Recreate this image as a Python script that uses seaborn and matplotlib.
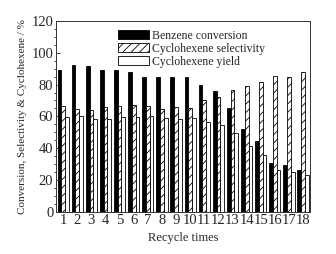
import matplotlib
matplotlib.use("Agg")
import matplotlib.pyplot as plt
import seaborn as sns
import pandas as pd
from matplotlib.ticker import MultipleLocator

cycles = [str(i) for i in range(1, 19)]
conversion = [89.5, 92.6, 92.0, 89.5, 89.0, 88.2, 84.8, 84.8, 84.8, 84.8,
              80.0, 75.8, 65.3, 52.0, 44.2, 30.5, 29.5, 26.3]
selectivity = [66.7, 64.8, 64.2, 65.9, 66.7, 67.4, 66.7, 64.6, 65.9, 65.5,
               70.5, 72.2, 76.8, 79.4, 81.5, 85.7, 84.8, 87.8]
yield_ = [59.4, 60.0, 58.5, 58.5, 59.6, 59.4, 60.0, 58.7, 58.5, 59.2,
          56.4, 54.7, 49.5, 41.0, 35.8, 26.3, 25.0, 23.2]
series = ["Benzene conversion", "Cyclohexene selectivity", "Cyclohexene yield"]

df = pd.DataFrame({
    "cycle": cycles * 3,
    "value": conversion + selectivity + yield_,
    "series": [series[0]] * 18 + [series[1]] * 18 + [series[2]] * 18,
})

sns.set_style("ticks")
plt.rcParams["font.family"] = ["Liberation Serif", "DejaVu Serif"]
plt.rcParams["hatch.linewidth"] = 0.6

fig = plt.figure(figsize=(3.36, 2.54), dpi=100)
ax = fig.add_axes([0.167, 0.167, 0.756, 0.750])

sns.barplot(data=df, x="cycle", y="value", hue="series", order=cycles,
            hue_order=series, palette=["black", "white", "white"],
            edgecolor="black", linewidth=0.6, width=0.8, ax=ax, legend=True)

hatches = ["", "////", ""]
for cont, h in zip(ax.containers, hatches):
    for p in cont:
        p.set_hatch(h)

ax.set_ylim(0, 120)
ax.set_xlim(-0.5, 17.5)
ax.yaxis.set_major_locator(MultipleLocator(20))
ax.yaxis.set_minor_locator(MultipleLocator(5))
ax.tick_params(axis="both", direction="in", labelsize=10.5, pad=2)
ax.tick_params(axis="y", which="major", length=3, width=0.6)
ax.tick_params(axis="y", which="minor", length=1.5, width=0.6)
ax.tick_params(axis="x", length=0)
for s in ax.spines.values():
    s.set_visible(True)
    s.set_linewidth(0.7)
    s.set_color("#333333")

ax.set_xlabel("Recycle times", fontsize=9, labelpad=3)
ax.set_ylabel("Conversion, Selectivity & Cyclohexene / %", fontsize=8, labelpad=3)

leg = ax.legend(loc="upper left", bbox_to_anchor=(0.21, 1.0), frameon=False,
                fontsize=8.5, handlelength=2.6, handleheight=0.75,
                labelspacing=0.08, handletextpad=0.25, borderpad=0.25)
for hnd, h in zip(leg.legend_handles, hatches):
    hnd.set_hatch(h)
    hnd.set_edgecolor("black")

fig.savefig("out.png", dpi=100)
